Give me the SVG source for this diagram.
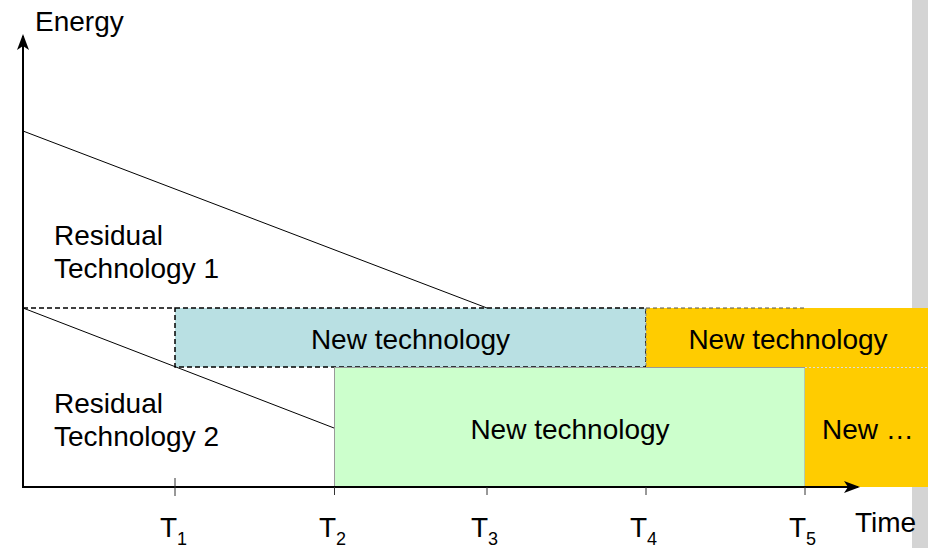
<svg xmlns="http://www.w3.org/2000/svg" width="928" height="548" viewBox="0 0 928 548">
<style>
text{font-family:"Liberation Sans",Arial,sans-serif;font-size:28px;fill:#000}
.sub{font-size:18px}
.ax{stroke:#000;stroke-width:2;fill:none}
.thin{stroke:#000;stroke-width:1;fill:none}
.tick{stroke:#333;stroke-width:1}
</style>
<defs>
<marker id="arr" markerWidth="16" markerHeight="12" refX="14" refY="6" orient="auto" markerUnits="userSpaceOnUse">
<path d="M0,0 L16,6 L0,12 L4,6 Z" fill="#000"/>
</marker>
</defs>
<rect x="0" y="0" width="928" height="548" fill="#fff"/>
<rect x="912" y="0" width="16" height="548" fill="#d4d4d4"/>
<g id="blue-box">
<rect x="175" y="308" width="471" height="59" fill="#b9e0e3" stroke="#000" stroke-width="1.5" stroke-dasharray="5,3"/>
<text x="410.5" y="349" text-anchor="middle">New technology</text>
</g>
<g id="yellow-box-1">
<rect x="646" y="308" width="282" height="59" fill="#ffcc00"/>
<line x1="646" y1="308" x2="646" y2="367" stroke="#888" stroke-width="1" stroke-dasharray="3,2"/>
<text x="788" y="349" text-anchor="middle">New technology</text>
</g>
<g id="green-box">
<rect x="334.5" y="367.5" width="470.5" height="119.5" fill="#ccffcc" stroke="#999" stroke-width="1"/>
<text x="570" y="439" text-anchor="middle">New technology</text>
</g>
<g id="yellow-box-2">
<rect x="805" y="367" width="123" height="120" fill="#ffcc00"/>
<line x1="805" y1="367.5" x2="928" y2="367.5" stroke="#ddd" stroke-width="1" stroke-dasharray="2,2"/>
<text x="822" y="439">New …</text>
</g>
<g id="connectors">
<line class="thin" x1="23" y1="131" x2="487" y2="308"/>
<line class="thin" x1="23" y1="308" x2="334" y2="428"/>
<line x1="23" y1="308" x2="175" y2="308" stroke="#000" stroke-width="1.5" stroke-dasharray="5,3"/>
<line x1="646" y1="308" x2="805" y2="308" stroke="#555" stroke-width="1" stroke-dasharray="4,3"/>
<line class="ax" x1="23" y1="488" x2="23" y2="36" marker-end="url(#arr)"/>
<line class="ax" x1="22" y1="487" x2="858" y2="487" marker-end="url(#arr)"/>
<line class="tick" x1="175" y1="478" x2="175" y2="496"/>
<line class="tick" x1="334.5" y1="487" x2="334.5" y2="495"/>
<line class="tick" x1="487" y1="487" x2="487" y2="495"/>
<line class="tick" x1="646" y1="487" x2="646" y2="495"/>
<line class="tick" x1="805" y1="487" x2="805" y2="495"/>
</g>
<g id="labels">
<text x="35" y="31">Energy</text>
<text x="855" y="532">Time</text>
<text x="54" y="245">Residual</text>
<text x="54" y="278">Technology 1</text>
<text x="54" y="413">Residual</text>
<text x="54" y="446">Technology 2</text>
<text x="160" y="537">T<tspan class="sub" dy="8">1</tspan></text>
<text x="319" y="537">T<tspan class="sub" dy="8">2</tspan></text>
<text x="471" y="537">T<tspan class="sub" dy="8">3</tspan></text>
<text x="630" y="537">T<tspan class="sub" dy="8">4</tspan></text>
<text x="789" y="537">T<tspan class="sub" dy="8">5</tspan></text>
</g>
</svg>
